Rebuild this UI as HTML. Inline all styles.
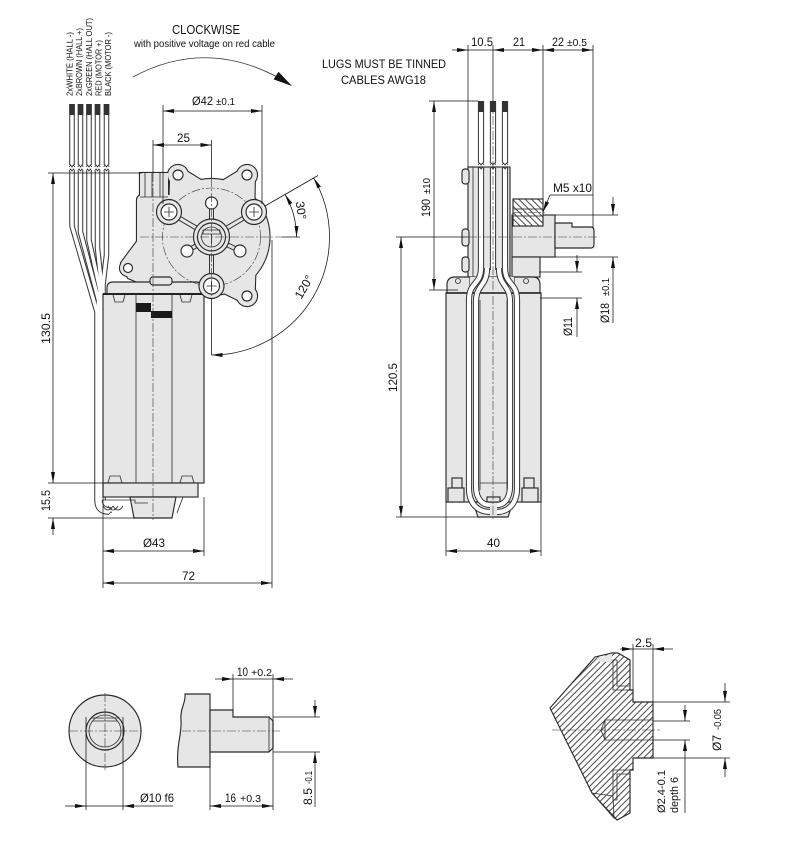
<!DOCTYPE html>
<html><head><meta charset="utf-8"><style>
html,body{margin:0;padding:0;background:#fff;}
svg{display:block;}
text{font-family:"Liberation Sans",Arial,sans-serif;fill:#111;}
.d{stroke:#111;stroke-width:.75;fill:none;}
.o{stroke:#2a2a2a;stroke-width:1.15;}
.c{stroke:#333;stroke-width:.6;stroke-dasharray:9 2 2 2;fill:none;}
.t{stroke:#333;stroke-width:.85;fill:none;}
</style></head><body>
<svg width="793" height="845" viewBox="0 0 793 845" xmlns="http://www.w3.org/2000/svg">
<defs>
<marker id="a" viewBox="0 0 11 4" refX="11" refY="2" markerWidth="11" markerHeight="4" markerUnits="userSpaceOnUse" orient="auto-start-reverse"><path d="M0,0L11,2L0,4Z" fill="#111"/></marker>
<pattern id="h1" patternUnits="userSpaceOnUse" width="4.5" height="4.5" patternTransform="rotate(45)"><rect width="4.5" height="4.5" fill="#fff"/><line x1="1" y1="0" x2="1" y2="4.5" stroke="#333" stroke-width="0.9"/></pattern>
<pattern id="h2" patternUnits="userSpaceOnUse" width="4.5" height="4.5" patternTransform="rotate(-45)"><rect width="4.5" height="4.5" fill="#fff"/><line x1="1" y1="0" x2="1" y2="4.5" stroke="#333" stroke-width="0.9"/></pattern>
<g id="lw" fill="none">
<path d="M72,104V165M80.5,104V165M89,104V165M97.5,104V165M106.5,104V165"/>
<path d="M72,171V226L97,312V500Q97,512 109,512"/>
<path d="M80.5,171V232L98.5,300V500Q98.5,511 110,511"/>
<path d="M89,171V240L100,290V500Q100,510 112,510"/>
<path d="M97.5,171V248L101.5,285V500"/>
<path d="M106.5,171V255L103,285V500"/>
</g>
<g id="hous">
<circle cx="211.5" cy="237" r="58"/>
<circle cx="178" cy="175" r="10"/><circle cx="247" cy="175" r="10"/><circle cx="247" cy="296" r="10"/><circle cx="128" cy="268" r="8"/>
<polygon points="185.9,170.7 201,180 169.5,197 170.1,179.3"/>
<polygon points="239.2,170.5 254.8,179.5 254.5,198 223.3,180.2"/>
<polygon points="254.7,291.4 255.3,275 224.6,293.5 239.3,300.6"/>
<rect x="137" y="195" width="40" height="90" rx="5"/>
<polygon points="138,240 121,263 128,278 140,283"/>
<rect x="140" y="173" width="28" height="24"/>
</g>
<g id="sp">
<line x1="211.5" y1="237" x2="169" y2="212"/><line x1="211.5" y1="237" x2="254" y2="212"/><line x1="211.5" y1="237" x2="211.5" y2="286"/>
<line x1="211.5" y1="237" x2="211.5" y2="203"/><line x1="211.5" y1="237" x2="187" y2="251"/><line x1="211.5" y1="237" x2="240" y2="251"/>
</g>
<g id="rw" fill="none">
<path d="M505,268C505,285 517,282 517,300V488C517,506 506,512 497,512"/>
<path d="M499,268C499,287 510,284 510,302V486C510,500 503,505 497,505"/>
<path d="M487,268C487,287 476,284 476,302V486C476,500 483,505 490,505"/>
<path d="M481,268C481,285 469,282 469,300V488C469,506 480,512 490,512"/>
<path d="M481,101V163M493,101V163M505,101V163M481,168V270M493,168V270M505,168V270"/>
</g>
</defs>

<!-- ===== TOP TEXT ===== -->
<text x="172" y="34" font-size="12.5" textLength="68" lengthAdjust="spacingAndGlyphs">CLOCKWISE</text>
<text x="134" y="47" font-size="10" textLength="141" lengthAdjust="spacingAndGlyphs">with positive voltage on red cable</text>
<path d="M133,77Q205,38 279,78" class="t" stroke-width="1"/>
<polygon points="292,86 273.6,79.4 278.5,71.8" fill="#111"/>

<g font-size="8.5">
<text transform="translate(72.5,96) rotate(-90)" textLength="64" lengthAdjust="spacingAndGlyphs">2xWHITE (HALL -)</text>
<text transform="translate(82,96) rotate(-90)" textLength="68" lengthAdjust="spacingAndGlyphs">2xBROWN (HALL +)</text>
<text transform="translate(92,96) rotate(-90)" textLength="78" lengthAdjust="spacingAndGlyphs">2xGREEN (HALL OUT)</text>
<text transform="translate(101.5,96) rotate(-90)" textLength="56" lengthAdjust="spacingAndGlyphs">RED (MOTOR +)</text>
<text transform="translate(111,96) rotate(-90)" textLength="64" lengthAdjust="spacingAndGlyphs">BLACK (MOTOR -)</text>
</g>

<!-- ===== LEFT VIEW ===== -->
<use href="#lw" stroke="#333" stroke-width="5.5"/>
<use href="#lw" stroke="#fff" stroke-width="3.5"/>
<g fill="#333">
<rect x="69.25" y="104" width="5.5" height="11"/><rect x="77.75" y="104" width="5.5" height="11"/><rect x="86.25" y="104" width="5.5" height="11"/><rect x="94.75" y="104" width="5.5" height="11"/><rect x="103.75" y="104" width="5.5" height="11"/>
</g>
<g class="t" stroke-width=".7">
<path d="M69.2,167l1.4,-2 1.4,2 1.4,-2 1.4,2M69.2,171l1.4,-2 1.4,2 1.4,-2 1.4,2"/>
<path d="M77.7,167l1.4,-2 1.4,2 1.4,-2 1.4,2M77.7,171l1.4,-2 1.4,2 1.4,-2 1.4,2"/>
<path d="M86.2,167l1.4,-2 1.4,2 1.4,-2 1.4,2M86.2,171l1.4,-2 1.4,2 1.4,-2 1.4,2"/>
<path d="M94.7,167l1.4,-2 1.4,2 1.4,-2 1.4,2M94.7,171l1.4,-2 1.4,2 1.4,-2 1.4,2"/>
<path d="M103.7,167l1.4,-2 1.4,2 1.4,-2 1.4,2M103.7,171l1.4,-2 1.4,2 1.4,-2 1.4,2"/>
</g>
<path d="M103,506q5,8 10,0M108,506q5,8 10,0M113,506q5,8 10,0" class="t"/>

<!-- housing -->
<use href="#hous" fill="#2a2a2a" stroke="#2a2a2a" stroke-width="2.2"/>
<use href="#hous" fill="#e6e6e6"/>
<g class="t" stroke-width=".7"><line x1="145" y1="173" x2="145" y2="197"/><line x1="152" y1="173" x2="152" y2="197"/><line x1="160" y1="173" x2="160" y2="197"/><line x1="140" y1="197" x2="168" y2="197"/></g>
<g fill="#fff" class="o"><circle cx="178" cy="175" r="5"/><circle cx="247" cy="175" r="5"/><circle cx="247" cy="296" r="5"/><circle cx="128" cy="268" r="4.5"/></g>

<!-- motor plate + body left -->
<path d="M107,294V288Q107,282 113,282H196Q202,282 202,288V294Z" fill="#e6e6e6" class="o"/>
<rect x="150" y="277" width="22" height="8" rx="3" fill="#e6e6e6" class="o"/>
<rect x="103" y="294" width="101" height="189" fill="#e6e6e6" class="o"/>
<line x1="103" y1="294" x2="204" y2="294" stroke="#222" stroke-width="2"/>
<g class="t"><line x1="136" y1="294" x2="136" y2="483"/><line x1="172" y1="294" x2="172" y2="483"/>
<path d="M113,295l2,7h8l2,-7M180,295l2,7h8l2,-7"/>
<path d="M108,483l2,-7h10l2,7M180,483l2,-7h10l2,7"/></g>
<rect x="136" y="303" width="15" height="9" fill="#1a1a1a"/>
<rect x="151" y="311" width="21" height="7" fill="#1a1a1a"/>
<rect x="103" y="483" width="95" height="14" fill="#e6e6e6" class="o"/>
<polygon points="130,497 176,497 172,518 134,518" fill="#e6e6e6" class="o"/>
<path d="M103,500H135V503H148" class="t"/>
<path d="M175,497l8,0 -6,16" class="t"/>

<!-- gear details -->
<circle cx="211.5" cy="237" r="49" class="c"/>
<use href="#sp" stroke="#333" stroke-width="5"/>
<use href="#sp" stroke="#e6e6e6" stroke-width="3"/>
<g class="o" fill="#e6e6e6">
<circle cx="169" cy="212" r="12.5"/><circle cx="254" cy="212" r="12.5"/><circle cx="211.5" cy="286" r="12.5"/>
</g>
<g class="o" fill="#fff">
<circle cx="169" cy="212" r="8"/><circle cx="254" cy="212" r="8"/><circle cx="211.5" cy="286" r="8"/>
<circle cx="211.5" cy="203" r="6"/><circle cx="187" cy="251" r="6"/><circle cx="240" cy="251" r="6"/>
</g>
<g class="t" stroke-width=".6"><path d="M164,212h10M169,207v10M249,212h10M254,207v10M206.5,286h10M211.5,281v10"/></g>
<circle cx="211.5" cy="237" r="18" fill="#e6e6e6" class="o"/>
<circle cx="211.5" cy="237" r="14" fill="#e6e6e6" class="o"/>
<circle cx="211.5" cy="237" r="10" fill="#e6e6e6" class="t"/>
<path d="M203,230H220V234H203ZM211.5,234V244" class="t"/>

<!-- centerlines left -->
<line x1="140" y1="237" x2="282" y2="237" class="c"/>
<line x1="282" y1="237" x2="300" y2="237" class="d"/>
<line x1="211.5" y1="140" x2="211.5" y2="178" class="d"/>
<line x1="211.5" y1="178" x2="211.5" y2="298" class="c"/>
<line x1="211.5" y1="298" x2="211.5" y2="355" class="d"/>
<line x1="153" y1="140" x2="153" y2="173" class="d"/>
<line x1="153" y1="173" x2="153" y2="520" class="c"/>

<!-- left dims -->
<line x1="48" y1="173" x2="142" y2="173" class="d"/>
<line x1="53" y1="173" x2="53" y2="483" class="d" marker-start="url(#a)" marker-end="url(#a)"/>
<line x1="48" y1="483" x2="103" y2="483" class="d"/>
<line x1="48" y1="518" x2="135" y2="518" class="d"/>
<line x1="53" y1="535" x2="53" y2="518" class="d" marker-end="url(#a)"/>
<text transform="translate(50,344) rotate(-90)" font-size="12" textLength="31" lengthAdjust="spacingAndGlyphs">130.5</text>
<text transform="translate(50,511) rotate(-90)" font-size="12" textLength="21" lengthAdjust="spacingAndGlyphs">15.5</text>

<line x1="163" y1="105" x2="163" y2="204" class="d"/>
<line x1="262" y1="105" x2="262" y2="204" class="d"/>
<line x1="163" y1="111" x2="262" y2="111" class="d" marker-start="url(#a)" marker-end="url(#a)"/>
<text x="192" y="105" font-size="12" textLength="21" lengthAdjust="spacingAndGlyphs">Ø42</text>
<text x="216" y="105" font-size="10" textLength="19" lengthAdjust="spacingAndGlyphs">±0.1</text>
<line x1="153" y1="145" x2="211.5" y2="145" class="d" marker-start="url(#a)" marker-end="url(#a)"/>
<text x="177" y="142" font-size="12" textLength="13" lengthAdjust="spacingAndGlyphs">25</text>

<line x1="265" y1="206" x2="318" y2="175.5" class="d"/>
<path d="M296.5,237A85,85 0 0 0 285.1,194.5" class="d" marker-start="url(#a)" marker-end="url(#a)"/>
<path d="M313.7,178A118,118 0 0 1 211.5,355" class="d" marker-start="url(#a)" marker-end="url(#a)"/>
<text transform="translate(297,211) rotate(82)" font-size="12" text-anchor="middle">30°</text>
<text transform="translate(307.5,289) rotate(-60)" font-size="12" text-anchor="middle">120°</text>

<line x1="103" y1="483" x2="103" y2="588" class="d"/>
<line x1="204" y1="497" x2="204" y2="556" class="d"/>
<line x1="272" y1="240" x2="272" y2="588" class="d"/>
<line x1="103" y1="551" x2="204" y2="551" class="d" marker-start="url(#a)" marker-end="url(#a)"/>
<line x1="103" y1="583" x2="272" y2="583" class="d" marker-start="url(#a)" marker-end="url(#a)"/>
<text x="143" y="547" font-size="12" textLength="22" lengthAdjust="spacingAndGlyphs">Ø43</text>
<text x="182" y="580" font-size="12" textLength="13" lengthAdjust="spacingAndGlyphs">72</text>

<!-- ===== RIGHT VIEW ===== -->
<text x="322" y="68" font-size="11.5" textLength="124" lengthAdjust="spacingAndGlyphs">LUGS MUST BE TINNED</text>
<text x="341" y="84" font-size="11.5" textLength="85" lengthAdjust="spacingAndGlyphs">CABLES AWG18</text>

<!-- boss & shaft -->
<rect x="512" y="215" width="43" height="42" fill="#e6e6e6" class="o"/>
<rect x="512" y="257" width="28" height="20" fill="#e6e6e6" class="o"/>
<path d="M555,223H572V227H591Q594,227 594,231V244Q594,248 591,248H555Z" fill="#e6e6e6" class="o"/>
<rect x="513" y="199" width="30" height="27" fill="url(#h2)" class="o"/>
<rect x="513" y="209" width="30" height="7" fill="#eee" class="t"/>
<line x1="513" y1="212.5" x2="545" y2="212.5" class="c"/>

<!-- plate -->
<rect x="468" y="167" width="42" height="110" fill="#e6e6e6" class="o"/>
<line x1="473" y1="167" x2="473" y2="277" class="t"/>
<g fill="#e6e6e6" class="o"><rect x="462" y="169" width="7" height="15" rx="3"/><rect x="462" y="229" width="7" height="17" rx="3"/><rect x="462" y="257" width="7" height="15" rx="3"/></g>

<!-- motor top ears right -->
<path d="M447,293V285Q447,277 455,277H470V293Z" fill="#e6e6e6" class="o"/>
<path d="M514,293V277H533Q540,277 540,285V293Z" fill="#e6e6e6" class="o"/>
<rect x="470" y="277" width="44" height="16" fill="#e6e6e6"/>
<circle cx="526" cy="281" r="2.5" fill="#fff" class="t"/>
<circle cx="458" cy="281" r="2.5" fill="#fff" class="t"/>

<!-- body right -->
<rect x="446" y="293" width="95" height="209" fill="#e6e6e6" class="o"/>
<line x1="446" y1="293" x2="541" y2="293" stroke="#222" stroke-width="1.6"/>
<g fill="#e6e6e6" class="o">
<rect x="452" y="478" width="10" height="10"/><rect x="448" y="488" width="16" height="14"/>
<rect x="524" y="478" width="10" height="10"/><rect x="522" y="488" width="16" height="14"/>
<polygon points="473,502 513,502 508,517 478,517"/>
<rect x="487" y="497" width="13" height="5"/>
</g>

<!-- wires right -->
<use href="#rw" stroke="#333" stroke-width="6.2"/>
<use href="#rw" stroke="#fff" stroke-width="4.2"/>
<g class="t"><line x1="480" y1="300" x2="480" y2="490"/><line x1="507" y1="300" x2="507" y2="490"/><line x1="480" y1="483" x2="507" y2="483"/></g>
<g fill="#333"><rect x="478" y="101" width="6" height="11"/><rect x="490" y="101" width="6" height="11"/><rect x="502" y="101" width="6" height="11"/></g>
<g class="t" stroke-width=".7">
<path d="M478,165l1.5,-2 1.5,2 1.5,-2 1.5,2M490,165l1.5,-2 1.5,2 1.5,-2 1.5,2M502,165l1.5,-2 1.5,2 1.5,-2 1.5,2"/>
<path d="M478,169l1.5,-2 1.5,2 1.5,-2 1.5,2M490,169l1.5,-2 1.5,2 1.5,-2 1.5,2M502,169l1.5,-2 1.5,2 1.5,-2 1.5,2"/>
</g>

<!-- right centerlines -->
<line x1="493" y1="101" x2="493" y2="520" class="c"/>
<line x1="468" y1="237" x2="598" y2="237" class="c"/>

<!-- right dims -->
<line x1="452" y1="50" x2="468" y2="50" class="d" marker-end="url(#a)"/>
<line x1="468" y1="50" x2="493" y2="50" class="d"/>
<line x1="493" y1="50" x2="543" y2="50" class="d" marker-start="url(#a)" marker-end="url(#a)"/>
<line x1="543" y1="50" x2="593" y2="50" class="d" marker-start="url(#a)" marker-end="url(#a)"/>
<line x1="468" y1="45" x2="468" y2="167" class="d"/>
<line x1="493" y1="45" x2="493" y2="101" class="d"/>
<line x1="543" y1="45" x2="543" y2="199" class="d"/>
<line x1="593" y1="45" x2="593" y2="228" class="d"/>
<text x="471" y="46" font-size="12" textLength="22" lengthAdjust="spacingAndGlyphs">10.5</text>
<text x="513" y="46" font-size="12" textLength="12" lengthAdjust="spacingAndGlyphs">21</text>
<text x="552" y="46" font-size="12" textLength="12" lengthAdjust="spacingAndGlyphs">22</text>
<text x="567" y="46" font-size="10" textLength="20" lengthAdjust="spacingAndGlyphs">±0.5</text>

<line x1="429" y1="101" x2="478" y2="101" class="d"/>
<line x1="429" y1="290" x2="458" y2="290" class="d"/>
<line x1="434" y1="101" x2="434" y2="290" class="d" marker-start="url(#a)" marker-end="url(#a)"/>
<text transform="translate(430,217) rotate(-90)" font-size="12" textLength="18" lengthAdjust="spacingAndGlyphs">190</text>
<text transform="translate(430,194) rotate(-90)" font-size="10" textLength="16" lengthAdjust="spacingAndGlyphs">±10</text>

<line x1="396" y1="237" x2="468" y2="237" class="d"/>
<line x1="396" y1="517" x2="478" y2="517" class="d"/>
<line x1="401" y1="237" x2="401" y2="517" class="d" marker-start="url(#a)" marker-end="url(#a)"/>
<text transform="translate(397,392) rotate(-90)" font-size="12" textLength="29" lengthAdjust="spacingAndGlyphs">120.5</text>

<line x1="446" y1="502" x2="446" y2="556" class="d"/>
<line x1="541" y1="502" x2="541" y2="556" class="d"/>
<line x1="446" y1="551" x2="541" y2="551" class="d" marker-start="url(#a)" marker-end="url(#a)"/>
<text x="487" y="547" font-size="12" textLength="13" lengthAdjust="spacingAndGlyphs">40</text>

<text x="553" y="192" font-size="12" textLength="39" lengthAdjust="spacingAndGlyphs">M5 x10</text>
<line x1="550" y1="195" x2="593" y2="195" class="d"/>
<line x1="550" y1="195" x2="543" y2="212" class="d" marker-end="url(#a)"/>

<line x1="555" y1="215" x2="618" y2="215" class="d"/>
<line x1="555" y1="257" x2="618" y2="257" class="d"/>
<line x1="613" y1="197" x2="613" y2="215" class="d" marker-end="url(#a)"/>
<line x1="613" y1="323" x2="613" y2="257" class="d" marker-end="url(#a)"/>
<text transform="translate(609,323) rotate(-90)" font-size="12" textLength="20" lengthAdjust="spacingAndGlyphs">Ø18</text>
<text transform="translate(609,296) rotate(-90)" font-size="10" textLength="18" lengthAdjust="spacingAndGlyphs">±0.1</text>

<line x1="539" y1="272" x2="582" y2="272" class="d"/>
<line x1="540" y1="298" x2="582" y2="298" class="d"/>
<line x1="577" y1="255" x2="577" y2="272" class="d" marker-end="url(#a)"/>
<line x1="577" y1="337" x2="577" y2="298" class="d" marker-end="url(#a)"/>
<text transform="translate(572,336) rotate(-90)" font-size="12" textLength="19" lengthAdjust="spacingAndGlyphs">Ø11</text>

<!-- ===== BOTTOM LEFT: shaft end view ===== -->
<circle cx="105" cy="731" r="36" fill="#e6e6e6" class="o"/>
<circle cx="105" cy="731" r="19" fill="#e6e6e6" class="o"/>
<circle cx="105" cy="731" r="16" fill="#e6e6e6" class="t"/>
<path d="M91,718H119M93,721H117" class="t"/>
<line x1="69" y1="731" x2="142" y2="731" class="c"/>
<line x1="105" y1="693" x2="105" y2="770" class="c"/>
<line x1="86" y1="717" x2="86" y2="810" class="d"/>
<line x1="123" y1="717" x2="123" y2="810" class="d"/>
<line x1="86" y1="806" x2="123" y2="806" class="d"/>
<line x1="65" y1="806" x2="86" y2="806" class="d" marker-end="url(#a)"/>
<line x1="173" y1="806" x2="123" y2="806" class="d" marker-end="url(#a)"/>
<text x="140" y="802" font-size="12" textLength="34" lengthAdjust="spacingAndGlyphs">Ø10 f6</text>

<!-- shaft side view -->
<path d="M185,694H210V767H178C176,745 182,735 181,720C180,708 186,703 185,694Z" fill="#e6e6e6" class="o"/>
<path d="M210,710H233V717H269L273,721V748L269,752H210Z" fill="#e6e6e6" class="o"/>
<line x1="269" y1="717" x2="269" y2="752" class="t"/>
<line x1="182" y1="731" x2="280" y2="731" class="c"/>
<line x1="233" y1="674" x2="233" y2="710" class="d"/>
<line x1="273" y1="674" x2="273" y2="810" class="d"/>
<line x1="233" y1="679" x2="273" y2="679" class="d"/>
<line x1="215" y1="679" x2="233" y2="679" class="d" marker-end="url(#a)"/>
<line x1="293" y1="679" x2="273" y2="679" class="d" marker-end="url(#a)"/>
<text x="237" y="676" font-size="12" textLength="11" lengthAdjust="spacingAndGlyphs">10</text>
<text x="251" y="676" font-size="10" textLength="21" lengthAdjust="spacingAndGlyphs">+0.2</text>
<line x1="210" y1="767" x2="210" y2="810" class="d"/>
<line x1="210" y1="806" x2="273" y2="806" class="d" marker-start="url(#a)" marker-end="url(#a)"/>
<text x="225" y="802" font-size="12" textLength="11" lengthAdjust="spacingAndGlyphs">16</text>
<text x="240" y="802" font-size="10" textLength="21" lengthAdjust="spacingAndGlyphs">+0.3</text>
<line x1="273" y1="717" x2="320" y2="717" class="d"/>
<line x1="273" y1="752" x2="320" y2="752" class="d"/>
<line x1="315" y1="700" x2="315" y2="717" class="d" marker-end="url(#a)"/>
<line x1="315" y1="807" x2="315" y2="752" class="d" marker-end="url(#a)"/>
<text transform="translate(312,805) rotate(-90)" font-size="12" textLength="17" lengthAdjust="spacingAndGlyphs">8.5</text>
<text transform="translate(312,784) rotate(-90)" font-size="10" textLength="13" lengthAdjust="spacingAndGlyphs">-0.1</text>

<!-- ===== BOTTOM RIGHT: section ===== -->
<polygon points="550,708 595,657 612,653 618,653 630,660 630,690 633,690 633,702 653,702 653,758 633,758 633,770 630,770 630,813 617,820 592,793" fill="url(#h1)" class="o"/>
<polygon points="592,793 613,796 614,818" fill="#e6e6e6" class="t"/>
<polygon points="597,658 612,654 612,662 600,662" fill="#e6e6e6"/>
<polygon points="613,660 617,660 617,686 630,686 630,690 613,690" fill="#fff" class="t"/>
<polygon points="613,800 617,800 617,774 630,774 630,770 613,770" fill="#fff" class="t"/>
<polygon points="605,720 653,720 653,740 605,740 601,730" fill="#eee" class="t"/>
<line x1="605" y1="720" x2="605" y2="740" class="t"/>
<line x1="552" y1="730" x2="660" y2="730" class="c"/>

<line x1="633" y1="644" x2="633" y2="690" class="d"/>
<line x1="653" y1="644" x2="653" y2="702" class="d"/>
<line x1="633" y1="649" x2="653" y2="649" class="d"/>
<line x1="620" y1="649" x2="633" y2="649" class="d" marker-end="url(#a)"/>
<line x1="673" y1="649" x2="653" y2="649" class="d" marker-end="url(#a)"/>
<text x="635" y="647" font-size="12" textLength="17" lengthAdjust="spacingAndGlyphs">2.5</text>

<line x1="653" y1="702" x2="730" y2="702" class="d"/>
<line x1="653" y1="758" x2="730" y2="758" class="d"/>
<line x1="725" y1="683" x2="725" y2="702" class="d" marker-end="url(#a)"/>
<line x1="725" y1="777" x2="725" y2="758" class="d" marker-end="url(#a)"/>
<text transform="translate(721,751) rotate(-90)" font-size="12" textLength="16" lengthAdjust="spacingAndGlyphs">Ø7</text>
<text transform="translate(721,730) rotate(-90)" font-size="10" textLength="21" lengthAdjust="spacingAndGlyphs">-0.05</text>

<line x1="653" y1="721" x2="690" y2="721" class="d"/>
<line x1="653" y1="740" x2="690" y2="740" class="d"/>
<line x1="685" y1="705" x2="685" y2="721" class="d" marker-end="url(#a)"/>
<line x1="685" y1="813" x2="685" y2="740" class="d" marker-end="url(#a)"/>
<text transform="translate(665,813) rotate(-90)" font-size="11" textLength="43" lengthAdjust="spacingAndGlyphs">Ø2.4-0.1</text>
<text transform="translate(678,813) rotate(-90)" font-size="11" textLength="36" lengthAdjust="spacingAndGlyphs">depth 6</text>
</svg>
</body></html>
